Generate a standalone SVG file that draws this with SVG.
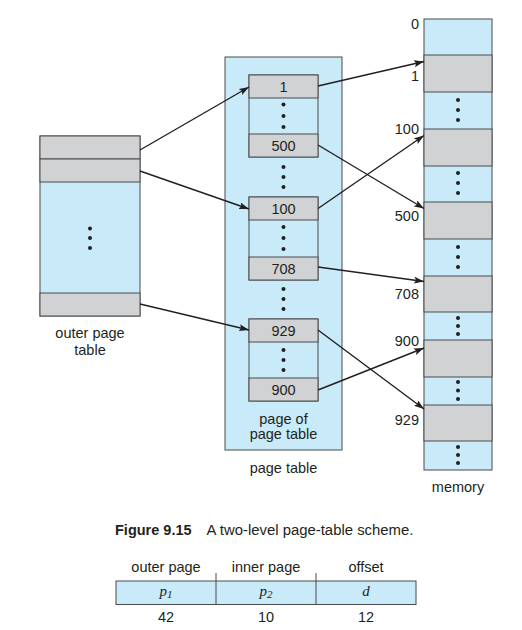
<svg xmlns="http://www.w3.org/2000/svg" width="522" height="630" viewBox="0 0 522 630">
<defs>
<style>
.blue{fill:#c8eaf9;stroke:#4a4a4c;stroke-width:1}
.gray{fill:#d1d2d4;stroke:#4a4a4c;stroke-width:1}
.t{font-family:"Liberation Sans",Arial,sans-serif;font-size:14.5px;fill:#231f20}
.c{text-anchor:middle}
.e{text-anchor:end}
.dot{fill:#231f20}
.arr{stroke:#231f20;stroke-width:1.4;fill:none;marker-end:url(#ah)}
.it{font-family:"Liberation Serif","Times New Roman",serif;font-style:italic;font-size:15px;fill:#231f20;text-anchor:middle}
</style>
<marker id="ah" markerUnits="userSpaceOnUse" markerWidth="11" markerHeight="8" refX="10" refY="3.5" orient="auto">
<path d="M0,0 L10,3.5 L0,7 L2,3.5 z" fill="#231f20"/>
</marker>
</defs>
<rect width="522" height="630" fill="#ffffff"/>

<g id="outer-page-table">
<rect class="blue" x="40" y="136" width="100" height="180"/>
<rect class="gray" x="40" y="136" width="100" height="23"/>
<rect class="gray" x="40" y="159" width="100" height="23"/>
<rect class="gray" x="40" y="293" width="100" height="23"/>
<circle class="dot" cx="90" cy="228.5" r="2"/>
<circle class="dot" cx="90" cy="238" r="2"/>
<circle class="dot" cx="90" cy="248" r="2"/>
<text class="t c" x="90" y="338">outer page</text>
<text class="t c" x="90" y="355">table</text>
</g>

<g id="page-table">
<rect class="blue" x="225" y="57" width="117" height="393"/>
<text class="t c" x="283.5" y="423.5">page of</text>
<text class="t c" x="283.5" y="438.5">page table</text>
<text class="t c" x="283.5" y="473">page table</text>
<circle class="dot" cx="283.5" cy="167" r="2"/>
<circle class="dot" cx="283.5" cy="177" r="2"/>
<circle class="dot" cx="283.5" cy="187" r="2"/>
<circle class="dot" cx="283.5" cy="289" r="2"/>
<circle class="dot" cx="283.5" cy="299" r="2"/>
<circle class="dot" cx="283.5" cy="309" r="2"/>
</g>

<g id="page-of-page-table-1">
<rect class="blue" x="249" y="75" width="69" height="82"/>
<rect class="gray" x="249" y="75" width="69" height="23"/>
<rect class="gray" x="249" y="134" width="69" height="23"/>
<text class="t c" x="283.5" y="91.5">1</text>
<text class="t c" x="283.5" y="151">500</text>
<circle class="dot" cx="283.5" cy="104.5" r="2"/>
<circle class="dot" cx="283.5" cy="116" r="2"/>
<circle class="dot" cx="283.5" cy="127" r="2"/>
</g>

<g id="page-of-page-table-2">
<rect class="blue" x="249" y="197" width="69" height="83"/>
<rect class="gray" x="249" y="197" width="69" height="23"/>
<rect class="gray" x="249" y="257" width="69" height="23"/>
<text class="t c" x="283.5" y="213.5">100</text>
<text class="t c" x="283.5" y="273.5">708</text>
<circle class="dot" cx="283.5" cy="227" r="2"/>
<circle class="dot" cx="283.5" cy="238" r="2"/>
<circle class="dot" cx="283.5" cy="249" r="2"/>
</g>

<g id="page-of-page-table-3">
<rect class="blue" x="249" y="319" width="69" height="82"/>
<rect class="gray" x="249" y="319" width="69" height="23"/>
<rect class="gray" x="249" y="378" width="69" height="23"/>
<text class="t c" x="283.5" y="335.5">929</text>
<text class="t c" x="283.5" y="394.5">900</text>
<circle class="dot" cx="283.5" cy="350" r="2"/>
<circle class="dot" cx="283.5" cy="360" r="2"/>
<circle class="dot" cx="283.5" cy="370" r="2"/>
</g>

<g id="memory">
<rect class="blue" x="424" y="19" width="68" height="451"/>
<rect class="gray" x="424" y="55" width="68" height="37"/>
<rect class="gray" x="424" y="129" width="68" height="37"/>
<rect class="gray" x="424" y="202" width="68" height="37"/>
<rect class="gray" x="424" y="276" width="68" height="36"/>
<rect class="gray" x="424" y="340" width="68" height="37"/>
<rect class="gray" x="424" y="405" width="68" height="36"/>
<circle class="dot" cx="458" cy="100" r="2"/>
<circle class="dot" cx="458" cy="110" r="2"/>
<circle class="dot" cx="458" cy="120" r="2"/>
<circle class="dot" cx="458" cy="173" r="2"/>
<circle class="dot" cx="458" cy="183" r="2"/>
<circle class="dot" cx="458" cy="193" r="2"/>
<circle class="dot" cx="458" cy="247" r="2"/>
<circle class="dot" cx="458" cy="257" r="2"/>
<circle class="dot" cx="458" cy="267" r="2"/>
<circle class="dot" cx="458" cy="318" r="2"/>
<circle class="dot" cx="458" cy="326" r="2"/>
<circle class="dot" cx="458" cy="334" r="2"/>
<circle class="dot" cx="458" cy="382" r="2"/>
<circle class="dot" cx="458" cy="390.5" r="2"/>
<circle class="dot" cx="458" cy="399" r="2"/>
<circle class="dot" cx="458" cy="447" r="2"/>
<circle class="dot" cx="458" cy="455" r="2"/>
<circle class="dot" cx="458" cy="463" r="2"/>
<text class="t e" x="419" y="29">0</text>
<text class="t e" x="419" y="81">1</text>
<text class="t e" x="419" y="134">100</text>
<text class="t e" x="419" y="221">500</text>
<text class="t e" x="419" y="299">708</text>
<text class="t e" x="419" y="345.5">900</text>
<text class="t e" x="419" y="425">929</text>
<text class="t c" x="458" y="491.5">memory</text>
</g>

<g id="connectors">
<line class="arr" x1="140" y1="150" x2="249" y2="87"/>
<line class="arr" x1="140" y1="171" x2="249" y2="209"/>
<line class="arr" x1="140" y1="304" x2="249" y2="330"/>
<line class="arr" x1="318" y1="86" x2="424" y2="61.5"/>
<line class="arr" x1="318" y1="145" x2="424" y2="208.5"/>
<line class="arr" x1="318" y1="208.5" x2="424" y2="135.5"/>
<line class="arr" x1="318" y1="267" x2="424" y2="281.5"/>
<line class="arr" x1="318" y1="330" x2="424" y2="409"/>
<line class="arr" x1="318" y1="390" x2="424" y2="348"/>
</g>

<g id="caption">
<text class="t" x="115" y="534.5" font-weight="bold">Figure 9.15</text>
<text class="t" x="206.5" y="534.5" style="font-size:14.9px">A two-level page-table scheme.</text>
</g>

<g id="address-format">
<rect class="blue" x="116" y="581" width="300" height="23.5" stroke="#231f20"/>
<line x1="216" y1="573" x2="216" y2="604.5" stroke="#4a4a4c" stroke-width="1"/>
<line x1="316" y1="573" x2="316" y2="604.5" stroke="#4a4a4c" stroke-width="1"/>
<text class="t c" x="166" y="572">outer page</text>
<text class="t c" x="266" y="572">inner page</text>
<text class="t c" x="366" y="572">offset</text>
<text class="it" x="166" y="596">p<tspan font-size="11" dy="2">1</tspan></text>
<text class="it" x="266" y="596">p<tspan font-size="11" dy="2">2</tspan></text>
<text class="it" x="366" y="596">d</text>
<text class="t c" x="166" y="622">42</text>
<text class="t c" x="266" y="622">10</text>
<text class="t c" x="366" y="622">12</text>
</g>
</svg>
